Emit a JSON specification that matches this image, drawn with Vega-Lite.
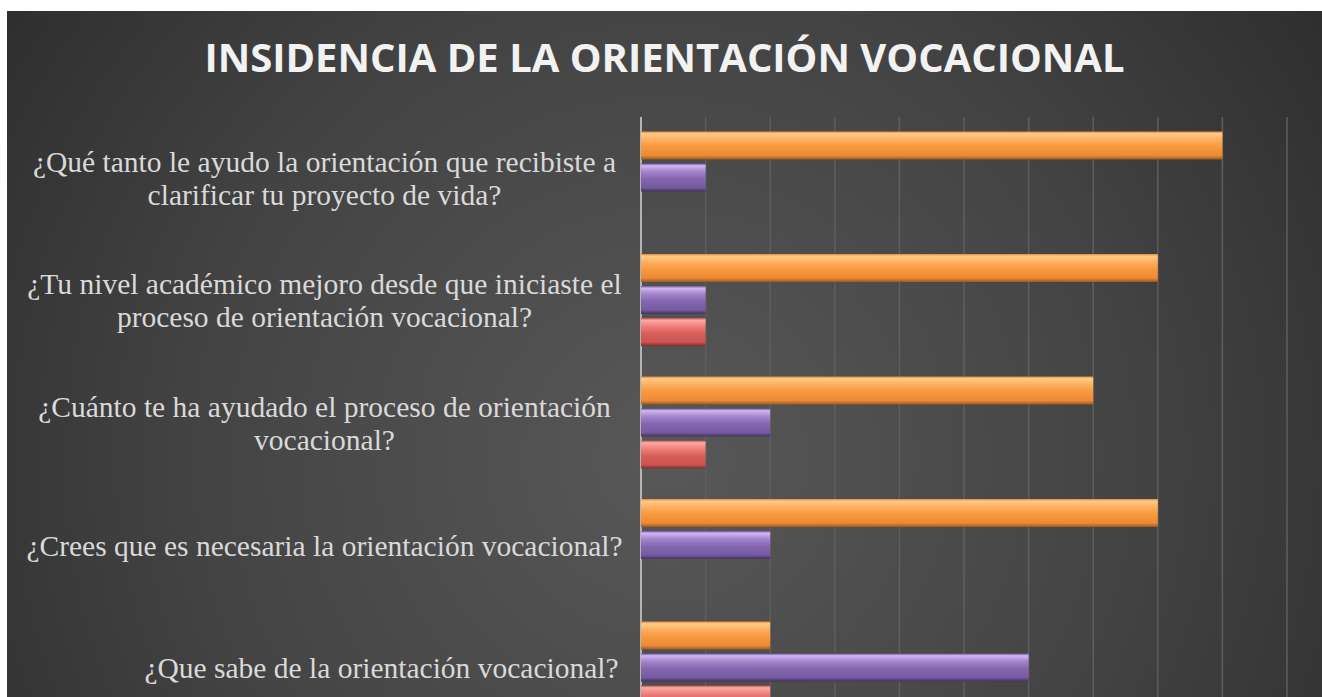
{
  "$schema": "https://vega.github.io/schema/vega-lite/v6.json",
  "width": 1315,
  "height": 686,
  "padding": {"left": 7, "top": 11, "right": 0, "bottom": 0},
  "autosize": {"type": "none"},
  "background": "#ffffff",
  "view": {
    "stroke": null,
    "fill": {
      "gradient": "radial",
      "x1": 0.5, "y1": 0.58, "r1": 0,
      "x2": 0.5, "y2": 0.58, "r2": 0.72,
      "stops": [
        {"offset": 0, "color": "#585858"},
        {"offset": 0.5, "color": "#434343"},
        {"offset": 1, "color": "#252525"}
      ]
    }
  },
  "title": {
    "text": "INSIDENCIA DE LA ORIENTACIÓN VOCACIONAL",
    "font": "Open Sans",
    "fontSize": 40,
    "fontWeight": "bold",
    "color": "#f2f2f2",
    "anchor": "middle",
    "frame": "group",
    "offset": -69
  },
  "layer": [
    {
      "data": {"values": [{"v": 0}, {"v": 1}, {"v": 2}, {"v": 3}, {"v": 4}, {"v": 5}, {"v": 6}, {"v": 7}, {"v": 8}, {"v": 9}, {"v": 10}]},
      "mark": {"type": "rule"},
      "encoding": {
        "x": {"field": "v", "type": "quantitative", "axis": null, "scale": {"domain": [0, 10], "range": [634, 1280], "zero": true, "nice": false}},
        "y": {"datum": "¿Qué tanto le ayudo la orientación que recibiste a\nclarificar tu proyecto de vida?", "type": "nominal", "bandPosition": -0.13},
        "y2": {"value": "height"},
        "stroke": {"condition": {"test": "datum.v === 0", "value": "#b4b4b4"}, "value": "#5e5e5e"},
        "strokeWidth": {"condition": {"test": "datum.v === 0", "value": 2}, "value": 1.5}
      }
    },
    {
      "data": {
        "values": [
          {"pregunta": "¿Qué tanto le ayudo la orientación que recibiste a\nclarificar tu proyecto de vida?", "serie": "Mucho", "valor": 9},
          {"pregunta": "¿Qué tanto le ayudo la orientación que recibiste a\nclarificar tu proyecto de vida?", "serie": "Poco", "valor": 1},
          {"pregunta": "¿Qué tanto le ayudo la orientación que recibiste a\nclarificar tu proyecto de vida?", "serie": "Nada", "valor": 0},
          {"pregunta": "¿Tu nivel académico mejoro desde que iniciaste el\nproceso de orientación vocacional?", "serie": "Mucho", "valor": 8},
          {"pregunta": "¿Tu nivel académico mejoro desde que iniciaste el\nproceso de orientación vocacional?", "serie": "Poco", "valor": 1},
          {"pregunta": "¿Tu nivel académico mejoro desde que iniciaste el\nproceso de orientación vocacional?", "serie": "Nada", "valor": 1},
          {"pregunta": "¿Cuánto te ha ayudado el proceso de orientación\nvocacional?", "serie": "Mucho", "valor": 7},
          {"pregunta": "¿Cuánto te ha ayudado el proceso de orientación\nvocacional?", "serie": "Poco", "valor": 2},
          {"pregunta": "¿Cuánto te ha ayudado el proceso de orientación\nvocacional?", "serie": "Nada", "valor": 1},
          {"pregunta": "¿Crees que es necesaria la orientación vocacional?", "serie": "Mucho", "valor": 8},
          {"pregunta": "¿Crees que es necesaria la orientación vocacional?", "serie": "Poco", "valor": 2},
          {"pregunta": "¿Crees que es necesaria la orientación vocacional?", "serie": "Nada", "valor": 0},
          {"pregunta": "¿Que sabe de la orientación vocacional?", "serie": "Mucho", "valor": 2},
          {"pregunta": "¿Que sabe de la orientación vocacional?", "serie": "Poco", "valor": 6},
          {"pregunta": "¿Que sabe de la orientación vocacional?", "serie": "Nada", "valor": 2}
        ]
      },
      "mark": {"type": "bar", "stroke": null},
      "encoding": {
        "x": {"field": "valor", "type": "quantitative", "axis": null, "scale": {"domain": [0, 10], "range": [634, 1280], "zero": true, "nice": false}},
        "y": {
          "field": "pregunta",
          "type": "nominal",
          "sort": null,
          "scale": {
            "domain": [
              "¿Qué tanto le ayudo la orientación que recibiste a\nclarificar tu proyecto de vida?",
              "¿Tu nivel académico mejoro desde que iniciaste el\nproceso de orientación vocacional?",
              "¿Cuánto te ha ayudado el proceso de orientación\nvocacional?",
              "¿Crees que es necesaria la orientación vocacional?",
              "¿Que sabe de la orientación vocacional?"
            ],
            "range": [118.5, 704.5],
            "paddingInner": 0.2163,
            "paddingOuter": 0
          },
          "axis": {
            "title": null,
            "domain": false,
            "ticks": false,
            "grid": false,
            "offset": -317,
            "labelPadding": {"condition": {"test": "indexof(datum.value, 'Que sabe') >= 0", "value": -57}, "value": 0},
            "labelAlign": "center",
            "labelBaseline": "middle",
            "labelOffset": {"condition": {"test": "indexof(datum.value, '\\n') >= 0", "value": -15}, "value": 2},
            "labelFont": "Liberation Serif",
            "labelFontSize": 29.5,
            "labelColor": "#d9d9d9",
            "labelLineHeight": 33,
            "labelLimit": 0,
            "labelExpr": "split(datum.label, '\\n')"
          }
        },
        "yOffset": {"field": "serie", "type": "nominal", "sort": ["Mucho", "Poco", "Nada"], "scale": {"paddingInner": 0.125, "paddingOuter": 0.0625}},
        "fill": {
          "condition": [
            {"test": "datum.serie === 'Mucho'", "value": {"gradient": "linear", "x1": 0, "y1": 0, "x2": 0, "y2": 1, "stops": [
              {"offset": 0, "color": "#E08A3C"},
              {"offset": 0.08, "color": "#FFCB88"},
              {"offset": 0.28, "color": "#FDB062"},
              {"offset": 0.55, "color": "#F8983E"},
              {"offset": 0.86, "color": "#EC8A34"},
              {"offset": 1, "color": "#9A5A24"}
            ]}},
            {"test": "datum.serie === 'Poco'", "value": {"gradient": "linear", "x1": 0, "y1": 0, "x2": 0, "y2": 1, "stops": [
              {"offset": 0, "color": "#6F5694"},
              {"offset": 0.08, "color": "#D3B6F5"},
              {"offset": 0.28, "color": "#A485CE"},
              {"offset": 0.55, "color": "#8466AF"},
              {"offset": 0.86, "color": "#765AA0"},
              {"offset": 1, "color": "#44325F"}
            ]}}
          ],
          "value": {"gradient": "linear", "x1": 0, "y1": 0, "x2": 0, "y2": 1, "stops": [
            {"offset": 0, "color": "#B8504D"},
            {"offset": 0.08, "color": "#FFA8A5"},
            {"offset": 0.28, "color": "#F0827E"},
            {"offset": 0.55, "color": "#D85F5A"},
            {"offset": 0.86, "color": "#CA5450"},
            {"offset": 1, "color": "#80302E"}
          ]}
        }
      }
    }
  ]
}
